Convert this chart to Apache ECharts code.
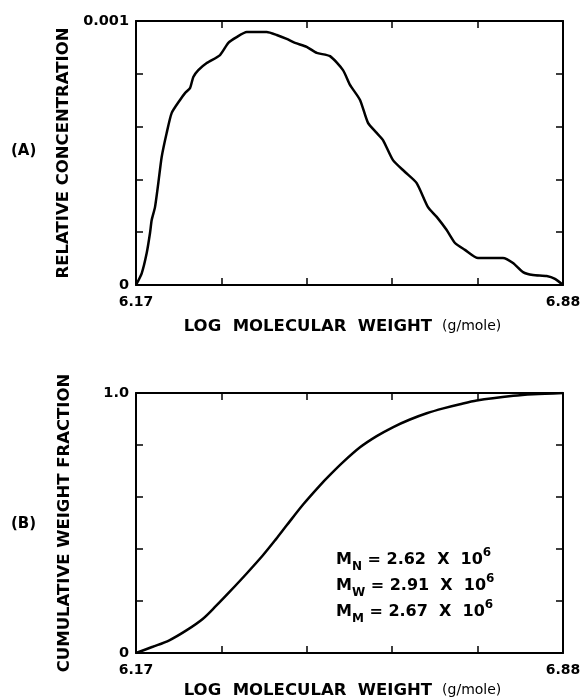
<!DOCTYPE html>
<html>
<head>
<meta charset="utf-8">
<script src="https://cdn.jsdelivr.net/npm/echarts@6/dist/echarts.min.js"></script>
<style>
  html, body { margin: 0; padding: 0; background: #fff; }
  #chart { width: 584px; height: 700px; }
</style>
</head>
<body>
<div id="chart"></div>
<script>
// (A) relative concentration vs log molecular weight
const concLogM = [6.17, 6.1795, 6.1878, 6.1933, 6.1961, 6.2016, 6.2071, 6.2127, 6.221, 6.2294,
  6.2432, 6.2515, 6.2598, 6.2653, 6.2736, 6.2876, 6.3097, 6.3235, 6.3374, 6.3541,
  6.3873, 6.404, 6.4206, 6.4344, 6.4538, 6.4705, 6.4926, 6.5142, 6.5258, 6.5425,
  6.5558, 6.5702, 6.5807, 6.5973, 6.6173, 6.6367, 6.6555, 6.67, 6.6866, 6.7004,
  6.717, 6.7387, 6.7802, 6.7969, 6.8135, 6.8301, 6.8529, 6.8667, 6.88]
const concValues = [0, 0.0000443, 0.000121, 0.000197, 0.000246, 0.000295, 0.000386, 0.000485, 0.000576, 0.000652,
  0.000701, 0.000727, 0.000746, 0.000788, 0.000814, 0.000841, 0.000871, 0.000917, 0.000939, 0.000958,
  0.000958, 0.000947, 0.000932, 0.000917, 0.000902, 0.000879, 0.000867, 0.000814, 0.000758, 0.000701,
  0.000614, 0.000576, 0.000549, 0.000473, 0.000428, 0.000386, 0.000295, 0.000258, 0.000208, 0.000159,
  0.000133, 0.000102, 0.000102, 0.000083, 0.000049, 0.000038, 0.000034, 0.000023, 0]

// (B) cumulative weight fraction
const cumLogM = [6.17, 6.1978, 6.2254, 6.2531, 6.2809, 6.303, 6.3251, 6.3529, 6.3807, 6.4028,
  6.4206, 6.4482, 6.476, 6.4926, 6.5147, 6.5425, 6.5702, 6.5978, 6.6256, 6.6534,
  6.681, 6.7087, 6.7365, 6.7974, 6.8306, 6.88]
const cumValues = [0, 0.024, 0.049, 0.086, 0.131, 0.181, 0.234, 0.303, 0.375, 0.438,
  0.491, 0.572, 0.645, 0.685, 0.735, 0.791, 0.834, 0.869, 0.898, 0.922,
  0.941, 0.957, 0.971, 0.989, 0.995, 1.0]

const xTicks = [6.17, 6.312, 6.454, 6.596, 6.738, 6.88]
const xTickLabels = [6.17, 6.88]
const concTickLabels = [0, 0.001]
const cumTickLabels = [0, 1]
const averages = [['N', '2.62'], ['W', '2.91'], ['M', '2.67']]

const boldFont = 'DejaVu Sans'
const grids = [
  { left: 136, top: 21, width: 427, height: 264 },
  { left: 136, top: 393, width: 427, height: 265 }
]

function xAxes(gridIndex, nameGap){
  const line = { onZero: false, lineStyle: { color: '#000', width: 2 } }
  const tick = { show: true, inside: true, length: 7, customValues: xTicks, lineStyle: { color: '#000', width: 1.5 } }
  return [
    {
      type: 'value', gridIndex, position: 'bottom', min: 6.17, max: 6.88,
      axisLine: line, axisTick: tick, splitLine: { show: false },
      axisLabel: { customValues: xTickLabels, margin: 10, color: '#000',
        fontFamily: boldFont, fontWeight: 'bold', fontSize: 14, formatter: v => v.toFixed(2) },
      name: '{b|LOG  MOLECULAR  WEIGHT}   {n|(g/mole)}',
      nameLocation: 'middle', nameGap,
      nameTextStyle: {
        padding: [0, 14, 0, 0],
        rich: {
          b: { fontFamily: boldFont, fontWeight: 'bold', fontSize: 16.5, color: '#000' },
          n: { fontFamily: boldFont, fontSize: 14, color: '#000' }
        }
      }
    },
    {
      type: 'value', gridIndex, position: 'top', min: 6.17, max: 6.88,
      axisLine: line, axisTick: tick, axisLabel: { show: false }, splitLine: { show: false }
    }
  ]
}

function yAxes(gridIndex, max, labels, name, fmt){
  const line = { show: true, onZero: false, lineStyle: { color: '#000', width: 2 } }
  const tick = { show: true, inside: true, length: 7, lineStyle: { color: '#000', width: 1.5 } }
  return [
    {
      type: 'value', gridIndex, position: 'left', min: 0, max, interval: max / 5,
      axisLine: line, axisTick: tick, splitLine: { show: false },
      axisLabel: { customValues: labels, margin: 7, color: '#000',
        fontFamily: boldFont, fontWeight: 'bold', fontSize: 14.5, formatter: fmt },
      name, nameLocation: 'middle', nameGap: 63, nameRotate: 90,
      nameTextStyle: { fontFamily: boldFont, fontWeight: 'bold', fontSize: 16.5, color: '#000' }
    },
    {
      type: 'value', gridIndex, position: 'right', min: 0, max, interval: max / 5,
      axisLine: line, axisTick: tick, axisLabel: { show: false }, splitLine: { show: false }
    }
  ]
}

const avgText = averages.map(a => '{m|M}{s|' + a[0] + '}{m| = ' + a[1] + '  X  10}{p|6}').join('\n')

const option = {
  animation: false,
  grid: grids,
  xAxis: [...xAxes(0, 33), ...xAxes(1, 29)],
  yAxis: [
    ...yAxes(0, 0.001, concTickLabels, 'RELATIVE CONCENTRATION', v => v === 0 ? '0' : '0.001'),
    ...yAxes(1, 1, cumTickLabels, 'CUMULATIVE WEIGHT FRACTION', v => v === 0 ? '0' : '1.0')
  ],
  series: [
    {
      type: 'line', xAxisIndex: 0, yAxisIndex: 0, showSymbol: false, smooth: 0.2,
      lineStyle: { color: '#000', width: 2.5 },
      data: concLogM.map((x, i) => [x, concValues[i]])
    },
    {
      type: 'line', xAxisIndex: 2, yAxisIndex: 2, showSymbol: false, smooth: 0.3,
      lineStyle: { color: '#000', width: 2.5 },
      data: cumLogM.map((x, i) => [x, cumValues[i]])
    }
  ],
  graphic: [
    { type: 'text', left: 11, top: 144, style: { text: '(A)', fill: '#000',
      font: 'bold 15px "DejaVu Sans"' } },
    { type: 'text', left: 11, top: 517, style: { text: '(B)', fill: '#000',
      font: 'bold 15px "DejaVu Sans"' } },
    { type: 'text', left: 336, top: 547, style: {
      text: avgText, fill: '#000',
      rich: {
        m: { fontFamily: boldFont, fontWeight: 'bold', fontSize: 16, lineHeight: 26, verticalAlign: 'middle' },
        s: { fontFamily: boldFont, fontWeight: 'bold', fontSize: 12, lineHeight: 26, verticalAlign: 'bottom' },
        p: { fontFamily: boldFont, fontWeight: 'bold', fontSize: 12, lineHeight: 26, verticalAlign: 'top' }
      }
    } }
  ]
}

const chart = echarts.init(document.getElementById('chart'))
chart.setOption(option)
</script>
</body>
</html>
